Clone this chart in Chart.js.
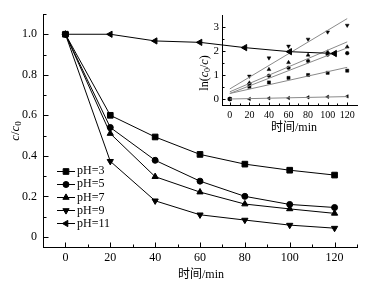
<!DOCTYPE html>
<html><head><meta charset="utf-8">
<script src="https://cdn.jsdelivr.net/npm/chart.js@4/dist/chart.umd.min.js"></script>
<style>
html,body{margin:0;padding:0;background:#fff;}
#wrap{position:relative;width:381px;height:287px;overflow:hidden;}
#inset{position:absolute;left:190px;top:0;z-index:1;}
#main{position:absolute;left:0;top:0;z-index:2;}
</style></head><body>
<div id="wrap"><canvas id="inset" width="191" height="140"></canvas><canvas id="main" width="381" height="287"></canvas></div>
<script>
// ---------- data (main chart) ----------
const times = [0, 20, 40, 60, 80, 100, 120];
const seriesLabels = ['pH=3', 'pH=5', 'pH=7', 'pH=9', 'pH=11'];
const pH3  = [1.0, 0.600, 0.493, 0.407, 0.359, 0.329, 0.305];
const pH5  = [1.0, 0.540, 0.378, 0.275, 0.200, 0.160, 0.145];
const pH7  = [1.0, 0.510, 0.297, 0.221, 0.162, 0.138, 0.116];
const pH9  = [1.0, 0.373, 0.178, 0.109, 0.083, 0.058, 0.043];
const pH11 = [1.0, 1.000, 0.967, 0.960, 0.934, 0.914, 0.905];
const xTickValues = [0, 20, 40, 60, 80, 100, 120];
const yTickValues = [0, 0.2, 0.4, 0.6, 0.8, 1.0];

// ---------- data (inset: ln(c0/c) vs time) ----------
const lnPH3  = [0, 0.51, 0.69, 0.88, 1.00, 1.09, 1.18];
const lnPH5  = [0, 0.62, 0.97, 1.30, 1.58, 1.85, 1.91];
const lnPH7  = [0, 0.67, 1.23, 1.52, 1.83, 1.96, 2.17];
const lnPH9  = [0, 0.95, 1.71, 2.20, 2.49, 2.79, 3.07];
const lnPH11 = [0, 0.00, 0.03, 0.04, 0.07, 0.09, 0.11];
const fitTimes = [0, 120];
const fitPH3  = [0.23, 1.32];
const fitPH5  = [0.23, 2.13];
const fitPH7  = [0.30, 2.38];
const fitPH9  = [0.42, 3.35];
const fitPH11 = [0.00, 0.10];
const insetXTickValues = [0, 20, 40, 60, 80, 100, 120];
const insetYTickValues = [0, 1, 2, 3];

// ---------- styling ----------
const SERIF = '"Liberation Serif", "Times New Roman", serif';
const CJK = '"Liberation Serif", "Noto Sans CJK SC", serif';
const styles = ['rect', 'circle', 'triangle', 'triangle', 'triangle'];
const rotations = [0, 0, 0, 180, 270];
const mainRadii = [4, 3, 3.6, 3.6, 3.6];
const insetRadii = [2.2, 1.8, 2.2, 2.2, 2];

function drawRich(ctx, parts, cx, cy, rot) {
  ctx.save();
  ctx.translate(cx, cy);
  ctx.rotate(rot);
  let w = 0;
  parts.forEach(p => { ctx.font = p.font; p.w = ctx.measureText(p.t).width; w += p.w; });
  let x = -w / 2;
  ctx.textBaseline = 'middle';
  ctx.textAlign = 'left';
  ctx.fillStyle = '#000';
  parts.forEach(p => { ctx.font = p.font; ctx.fillText(p.t, x, p.dy || 0); x += p.w; });
  ctx.restore();
}

const axisDecor = {
  id: 'axisDecor',
  afterDraw(chart, args, o) {
    const ctx = chart.ctx, a = chart.chartArea, xs = chart.scales.x, ys = chart.scales.y;
    ctx.save();
    ctx.strokeStyle = '#000';
    ctx.lineWidth = 1;
    ctx.beginPath();
    const xb = Math.round(a.bottom) + 0.5, yl = Math.round(a.left) + 0.5;
    o.xMajor.forEach(v => { const p = Math.round(xs.getPixelForValue(v)) + 0.5; ctx.moveTo(p, xb); ctx.lineTo(p, xb - o.major); });
    o.xMinor.forEach(v => { const p = Math.round(xs.getPixelForValue(v)) + 0.5; ctx.moveTo(p, xb); ctx.lineTo(p, xb - o.minor); });
    o.yMajor.forEach(v => { const p = Math.round(ys.getPixelForValue(v)) + 0.5; ctx.moveTo(yl, p); ctx.lineTo(yl + o.major, p); });
    o.yMinor.forEach(v => { const p = Math.round(ys.getPixelForValue(v)) + 0.5; ctx.moveTo(yl, p); ctx.lineTo(yl + o.minor, p); });
    ctx.stroke();
    ctx.restore();
    // titles
    drawRich(ctx, o.xTitle.parts, o.xTitle.x, o.xTitle.y, 0);
    drawRich(ctx, o.yTitle.parts, o.yTitle.x, o.yTitle.y, -Math.PI / 2);
  }
};

const customLegend = {
  id: 'customLegend',
  afterDraw(chart, args, o) {
    const ctx = chart.ctx;
    ctx.save();
    chart.data.datasets.forEach((ds, i) => {
      const y = o.y0 + i * o.step;
      ctx.strokeStyle = '#000';
      ctx.lineWidth = 1;
      ctx.beginPath();
      ctx.moveTo(o.x0, Math.round(y) + 0.5);
      ctx.lineTo(o.x1, Math.round(y) + 0.5);
      ctx.stroke();
      ctx.fillStyle = '#000';
      Chart.helpers.drawPoint(ctx, {
        pointStyle: ds.pointStyle, rotation: ds.rotation, radius: ds.pointRadius, borderWidth: 1
      }, (o.x0 + o.x1) / 2, Math.round(y) + 0.5);
      ctx.font = '12px ' + SERIF;
      ctx.textBaseline = 'middle';
      ctx.textAlign = 'left';
      ctx.fillText(ds.label, o.tx, y + 0.5);
    });
    ctx.restore();
  }
};

// ---------- main chart ----------
const mainSeries = [pH3, pH5, pH7, pH9, pH11];
new Chart(document.getElementById('main'), {
  type: 'line',
  data: {
    datasets: mainSeries.map((arr, i) => ({
      label: seriesLabels[i],
      data: times.map((t, j) => ({ x: t, y: arr[j] })),
      borderColor: '#000', backgroundColor: '#000', borderWidth: 1,
      pointStyle: styles[i], rotation: rotations[i], pointRadius: mainRadii[i],
      pointBorderWidth: 1, tension: 0
    }))
  },
  options: {
    responsive: false, animation: false, devicePixelRatio: 1,
    layout: { padding: { left: 0, right: 24, top: 14, bottom: 0 } },
    plugins: {
      legend: { display: false }, tooltip: { enabled: false },
      axisDecor: {
        major: 5, minor: 3,
        xMajor: xTickValues, xMinor: [10, 30, 50, 70, 90, 110, 130],
        yMajor: yTickValues, yMinor: [0.1, 0.3, 0.5, 0.7, 0.9, 1.1],
        xTitle: { x: 201, y: 275, parts: [{ t: '时间/min', font: '12px ' + CJK }] },
        yTitle: { x: 16, y: 131, parts: [
          { t: 'c', font: 'italic 13px ' + SERIF },
          { t: '/', font: '13px ' + SERIF },
          { t: 'c', font: 'italic 13px ' + SERIF },
          { t: '0', font: '9px ' + SERIF, dy: 3 }
        ] }
      },
      customLegend: { x0: 57, x1: 75, tx: 77, y0: 170.5, step: 13.2 }
    },
    scales: {
      x: {
        type: 'linear', min: -10, max: 130,
        afterBuildTicks: s => { s.ticks = xTickValues.map(v => ({ value: v })); },
        afterFit: s => { s.height = 40; },
        grid: { display: false, drawTicks: false },
        border: { display: true, color: '#000', width: 1 },
        ticks: { color: '#000', font: { family: SERIF, size: 12 }, padding: 4, maxRotation: 0 }
      },
      y: {
        type: 'linear', min: -0.05, max: 1.1,
        afterBuildTicks: s => { s.ticks = yTickValues.map(v => ({ value: v })); },
        afterFit: s => { s.width = 43; },
        grid: { display: false, drawTicks: false },
        border: { display: true, color: '#000', width: 1 },
        ticks: { color: '#000', font: { family: SERIF, size: 12 }, padding: 6,
          callback: v => v === 0 ? '0' : v.toFixed(1) }
      }
    }
  },
  plugins: [axisDecor, customLegend]
});

// ---------- inset chart ----------
const insetSeries = [lnPH3, lnPH5, lnPH7, lnPH9, lnPH11];
const fitSeries = [fitPH3, fitPH5, fitPH7, fitPH9, fitPH11];
const insetDatasets = [];
fitSeries.forEach((arr, i) => insetDatasets.push({
  label: seriesLabels[i] + ' fit',
  data: fitTimes.map((t, j) => ({ x: t, y: arr[j] })),
  borderColor: '#8a8a8a', borderWidth: 1, pointRadius: 0, showLine: true, tension: 0
}));
insetSeries.forEach((arr, i) => insetDatasets.push({
  label: seriesLabels[i],
  data: times.map((t, j) => ({ x: t, y: arr[j] })),
  borderColor: '#000', backgroundColor: '#000', showLine: false,
  pointStyle: styles[i], rotation: rotations[i], pointRadius: insetRadii[i], pointBorderWidth: 0.5
}));
new Chart(document.getElementById('inset'), {
  type: 'scatter',
  data: { datasets: insetDatasets },
  options: {
    responsive: false, animation: false, devicePixelRatio: 1,
    layout: { padding: { left: 0, right: 24, top: 15, bottom: 0 } },
    plugins: {
      legend: { display: false }, tooltip: { enabled: false },
      axisDecor: {
        major: 3, minor: 2,
        xMajor: insetXTickValues, xMinor: [10, 30, 50, 70, 90, 110],
        yMajor: insetYTickValues, yMinor: [0.5, 1.5, 2.5],
        xTitle: { x: 104, y: 128, parts: [{ t: '时间/min', font: '12px ' + CJK }] },
        yTitle: { x: 15, y: 73, parts: [
          { t: 'ln(', font: '12px ' + SERIF },
          { t: 'c', font: 'italic 12px ' + SERIF },
          { t: '0', font: '8px ' + SERIF, dy: 3 },
          { t: '/', font: '12px ' + SERIF },
          { t: 'c', font: 'italic 12px ' + SERIF },
          { t: ')', font: '12px ' + SERIF }
        ] }
      }
    },
    scales: {
      x: {
        type: 'linear', min: -8, max: 130,
        afterBuildTicks: s => { s.ticks = insetXTickValues.map(v => ({ value: v })); },
        afterFit: s => { s.height = 35; },
        grid: { display: false, drawTicks: false },
        border: { display: true, color: '#000', width: 1 },
        ticks: { color: '#000', font: { family: SERIF, size: 10 }, padding: 4, maxRotation: 0 }
      },
      y: {
        type: 'linear', min: -0.25, max: 3.5,
        afterBuildTicks: s => { s.ticks = insetYTickValues.map(v => ({ value: v })); },
        afterFit: s => { s.width = 32; },
        grid: { display: false, drawTicks: false },
        border: { display: true, color: '#000', width: 1 },
        ticks: { color: '#000', font: { family: SERIF, size: 11 }, padding: 3 }
      }
    }
  },
  plugins: [axisDecor]
});
</script>
</body></html>
